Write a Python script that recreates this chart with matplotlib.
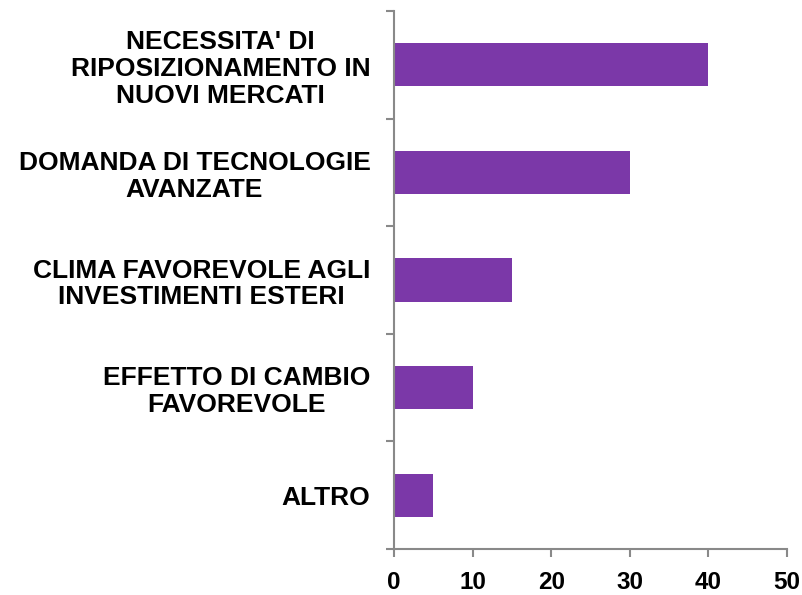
import matplotlib
matplotlib.use("Agg")
import matplotlib.pyplot as plt
import numpy as np

categories = ["NECESSITA' DI\nRIPOSIZIONAMENTO IN\nNUOVI MERCATI",
              "DOMANDA DI TECNOLOGIE\nAVANZATE",
              "CLIMA FAVOREVOLE AGLI\nINVESTIMENTI ESTERI",
              "EFFETTO DI CAMBIO\nFAVOREVOLE",
              "ALTRO"]
values = [40, 30, 15, 10, 5]
xticks = [0, 10, 20, 30, 40, 50]

plt.rcParams['font.family'] = ['Liberation Sans', 'DejaVu Sans']

fig = plt.figure(figsize=(8.03, 5.95), dpi=100)
ax = fig.add_axes([0.4907, 0.0773, 0.980 - 0.4907, 0.9815 - 0.0773])

n = len(categories)
ypos = np.arange(n)
ax.barh(ypos, values, height=0.4, color='#7B38A8')
ax.set_ylim(n - 0.5, -0.5)
ax.set_xlim(0, 50)

gray = '#898989'
for s in ['top', 'right']:
    ax.spines[s].set_visible(False)
for s in ['left', 'bottom']:
    ax.spines[s].set_color(gray)
    ax.spines[s].set_linewidth(1.5)

ax.set_yticks(ypos)
ax.set_yticklabels(categories, fontsize=19, fontweight='bold', multialignment='center', linespacing=1.15)
ax.set_yticks(np.arange(n + 1) - 0.5, minor=True)
ax.tick_params(axis='y', which='major', length=0, pad=17)
ax.tick_params(axis='y', which='minor', length=6, width=1.5, color=gray, direction='out')

ax.set_xticks(xticks)
ax.set_xticklabels([str(t) for t in xticks], fontsize=17.5, fontweight='bold')
ax.tick_params(axis='x', which='major', length=6, width=1.5, color=gray, direction='out', pad=10)

fig.savefig('out.png', dpi=100)
